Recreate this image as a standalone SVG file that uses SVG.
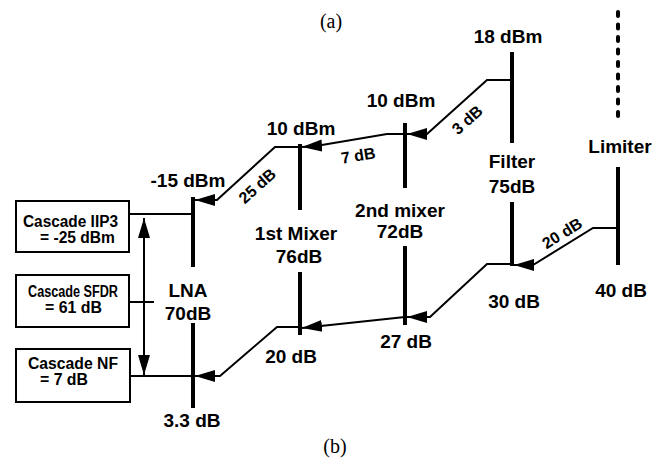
<svg xmlns="http://www.w3.org/2000/svg" width="667" height="464" viewBox="0 0 667 464">
<style>
.lbl{font-family:"Liberation Sans",Arial,sans-serif;font-weight:bold;font-size:19px;fill:#000;text-anchor:middle}
.sm{font-family:"Liberation Sans",Arial,sans-serif;font-weight:bold;font-size:16px;fill:#000;text-anchor:middle}
.box{font-family:"Liberation Sans",Arial,sans-serif;font-weight:bold;font-size:16px;fill:#000}
.cap{font-family:"Liberation Serif","Times New Roman",serif;font-size:20px;fill:#000;text-anchor:middle}
.bar{stroke:#000;stroke-width:4;fill:none}
.con{stroke:#000;stroke-width:2;fill:none;stroke-linejoin:miter}
.rect{stroke:#000;stroke-width:2;fill:#fff}
</style>
<defs>
<marker id="ah" markerUnits="userSpaceOnUse" markerWidth="22" markerHeight="14" refX="20" refY="7" orient="auto-start-reverse" viewBox="0 0 22 14">
<path d="M0,1 L20,7 L0,13 Z" fill="#000"/>
</marker>
</defs>
<rect width="667" height="464" fill="#fff"/>
<text class="cap" x="331" y="28">(a)</text>
<text class="cap" x="335" y="453">(b)</text>

<g id="box-iip3">
<rect class="rect" x="16" y="201" width="113" height="51"/>
<text class="box" x="23" y="227" textLength="95" lengthAdjust="spacingAndGlyphs">Cascade IIP3</text>
<text class="box" x="40" y="243" textLength="75" lengthAdjust="spacingAndGlyphs">= -25 dBm</text>
</g>
<g id="box-sfdr">
<rect class="rect" x="16" y="275" width="113" height="52"/>
<text class="box" x="28" y="297" textLength="90" lengthAdjust="spacingAndGlyphs">Cascade SFDR</text>
<text class="box" x="45" y="313" textLength="57" lengthAdjust="spacingAndGlyphs">= 61 dB</text>
</g>
<g id="box-nf">
<rect class="rect" x="16" y="349" width="114" height="53"/>
<text class="box" x="28" y="369" textLength="90" lengthAdjust="spacingAndGlyphs">Cascade NF</text>
<text class="box" x="40" y="385" textLength="48" lengthAdjust="spacingAndGlyphs">= 7 dB</text>
</g>

<g id="lna">
<line class="bar" x1="193" y1="197" x2="193" y2="267"/>
<line class="bar" x1="193" y1="323" x2="193" y2="408"/>
<text class="lbl" x="188" y="187">-15 dBm</text>
<text class="lbl" x="188" y="297">LNA</text>
<text class="lbl" x="188" y="320">70dB</text>
<text class="lbl" x="192" y="427">3.3 dB</text>
</g>
<g id="mixer1">
<line class="bar" x1="300" y1="144" x2="300" y2="210"/>
<line class="bar" x1="300" y1="272" x2="300" y2="335"/>
<text class="lbl" x="301" y="135">10 dBm</text>
<text class="lbl" x="296" y="240">1st Mixer</text>
<text class="lbl" x="299" y="263">76dB</text>
<text class="lbl" x="291" y="363">20 dB</text>
</g>
<g id="mixer2">
<line class="bar" x1="405" y1="123" x2="405" y2="188"/>
<line class="bar" x1="405" y1="246" x2="405" y2="325"/>
<text class="lbl" x="401" y="107">10 dBm</text>
<text class="lbl" x="400" y="217">2nd mixer</text>
<text class="lbl" x="400" y="238">72dB</text>
<text class="lbl" x="406" y="348">27 dB</text>
</g>
<g id="filter">
<line class="bar" x1="512" y1="52" x2="512" y2="143"/>
<line class="bar" x1="512" y1="202" x2="512" y2="266"/>
<text class="lbl" x="508" y="43">18 dBm</text>
<text class="lbl" x="512" y="168">Filter</text>
<text class="lbl" x="512" y="193">75dB</text>
<text class="lbl" x="514" y="308">30 dB</text>
</g>
<g id="limiter">
<line class="bar" x1="618" y1="167" x2="618" y2="265"/>
<line x1="618" y1="12" x2="618" y2="124" stroke="#000" stroke-width="4" stroke-linecap="round" stroke-dasharray="4 8.5"/>
<text class="lbl" x="620" y="153">Limiter</text>
<text class="lbl" x="621" y="297">40 dB</text>
</g>

<g id="connectors">
<line class="con" x1="129" y1="214" x2="193" y2="214"/>
<line class="con" x1="129" y1="302" x2="154" y2="302"/>
<line class="con" x1="130" y1="376" x2="193" y2="376"/>
<line class="con" x1="144" y1="218" x2="144" y2="375" marker-start="url(#ah)" marker-end="url(#ah)"/>
<path class="con" d="M618,228 L593,228 L533,265 L514,265" marker-end="url(#ah)"/>
<path class="con" d="M512,80 L487,80 L427,134 L407,134" marker-end="url(#ah)"/>
<path class="con" d="M512,264 L487,264 L430,317 L407,317" marker-end="url(#ah)"/>
<path class="con" d="M405,134 L387,134 L316,146 L302,147" marker-end="url(#ah)"/>
<path class="con" d="M405,317 L302,328" marker-end="url(#ah)"/>
<path class="con" d="M300,147 L275,147 L217,200 L195,200" marker-end="url(#ah)"/>
<path class="con" d="M300,327 L277,327 L220,376 L195,376" marker-end="url(#ah)"/>
<text class="sm" transform="translate(261,190) rotate(-42)">25 dB</text>
<text class="sm" transform="translate(359,161) rotate(-9)">7 dB</text>
<text class="sm" transform="translate(471,124) rotate(-42)">3 dB</text>
<text class="sm" transform="translate(565,238) rotate(-32)">20 dB</text>
</g>
</svg>
